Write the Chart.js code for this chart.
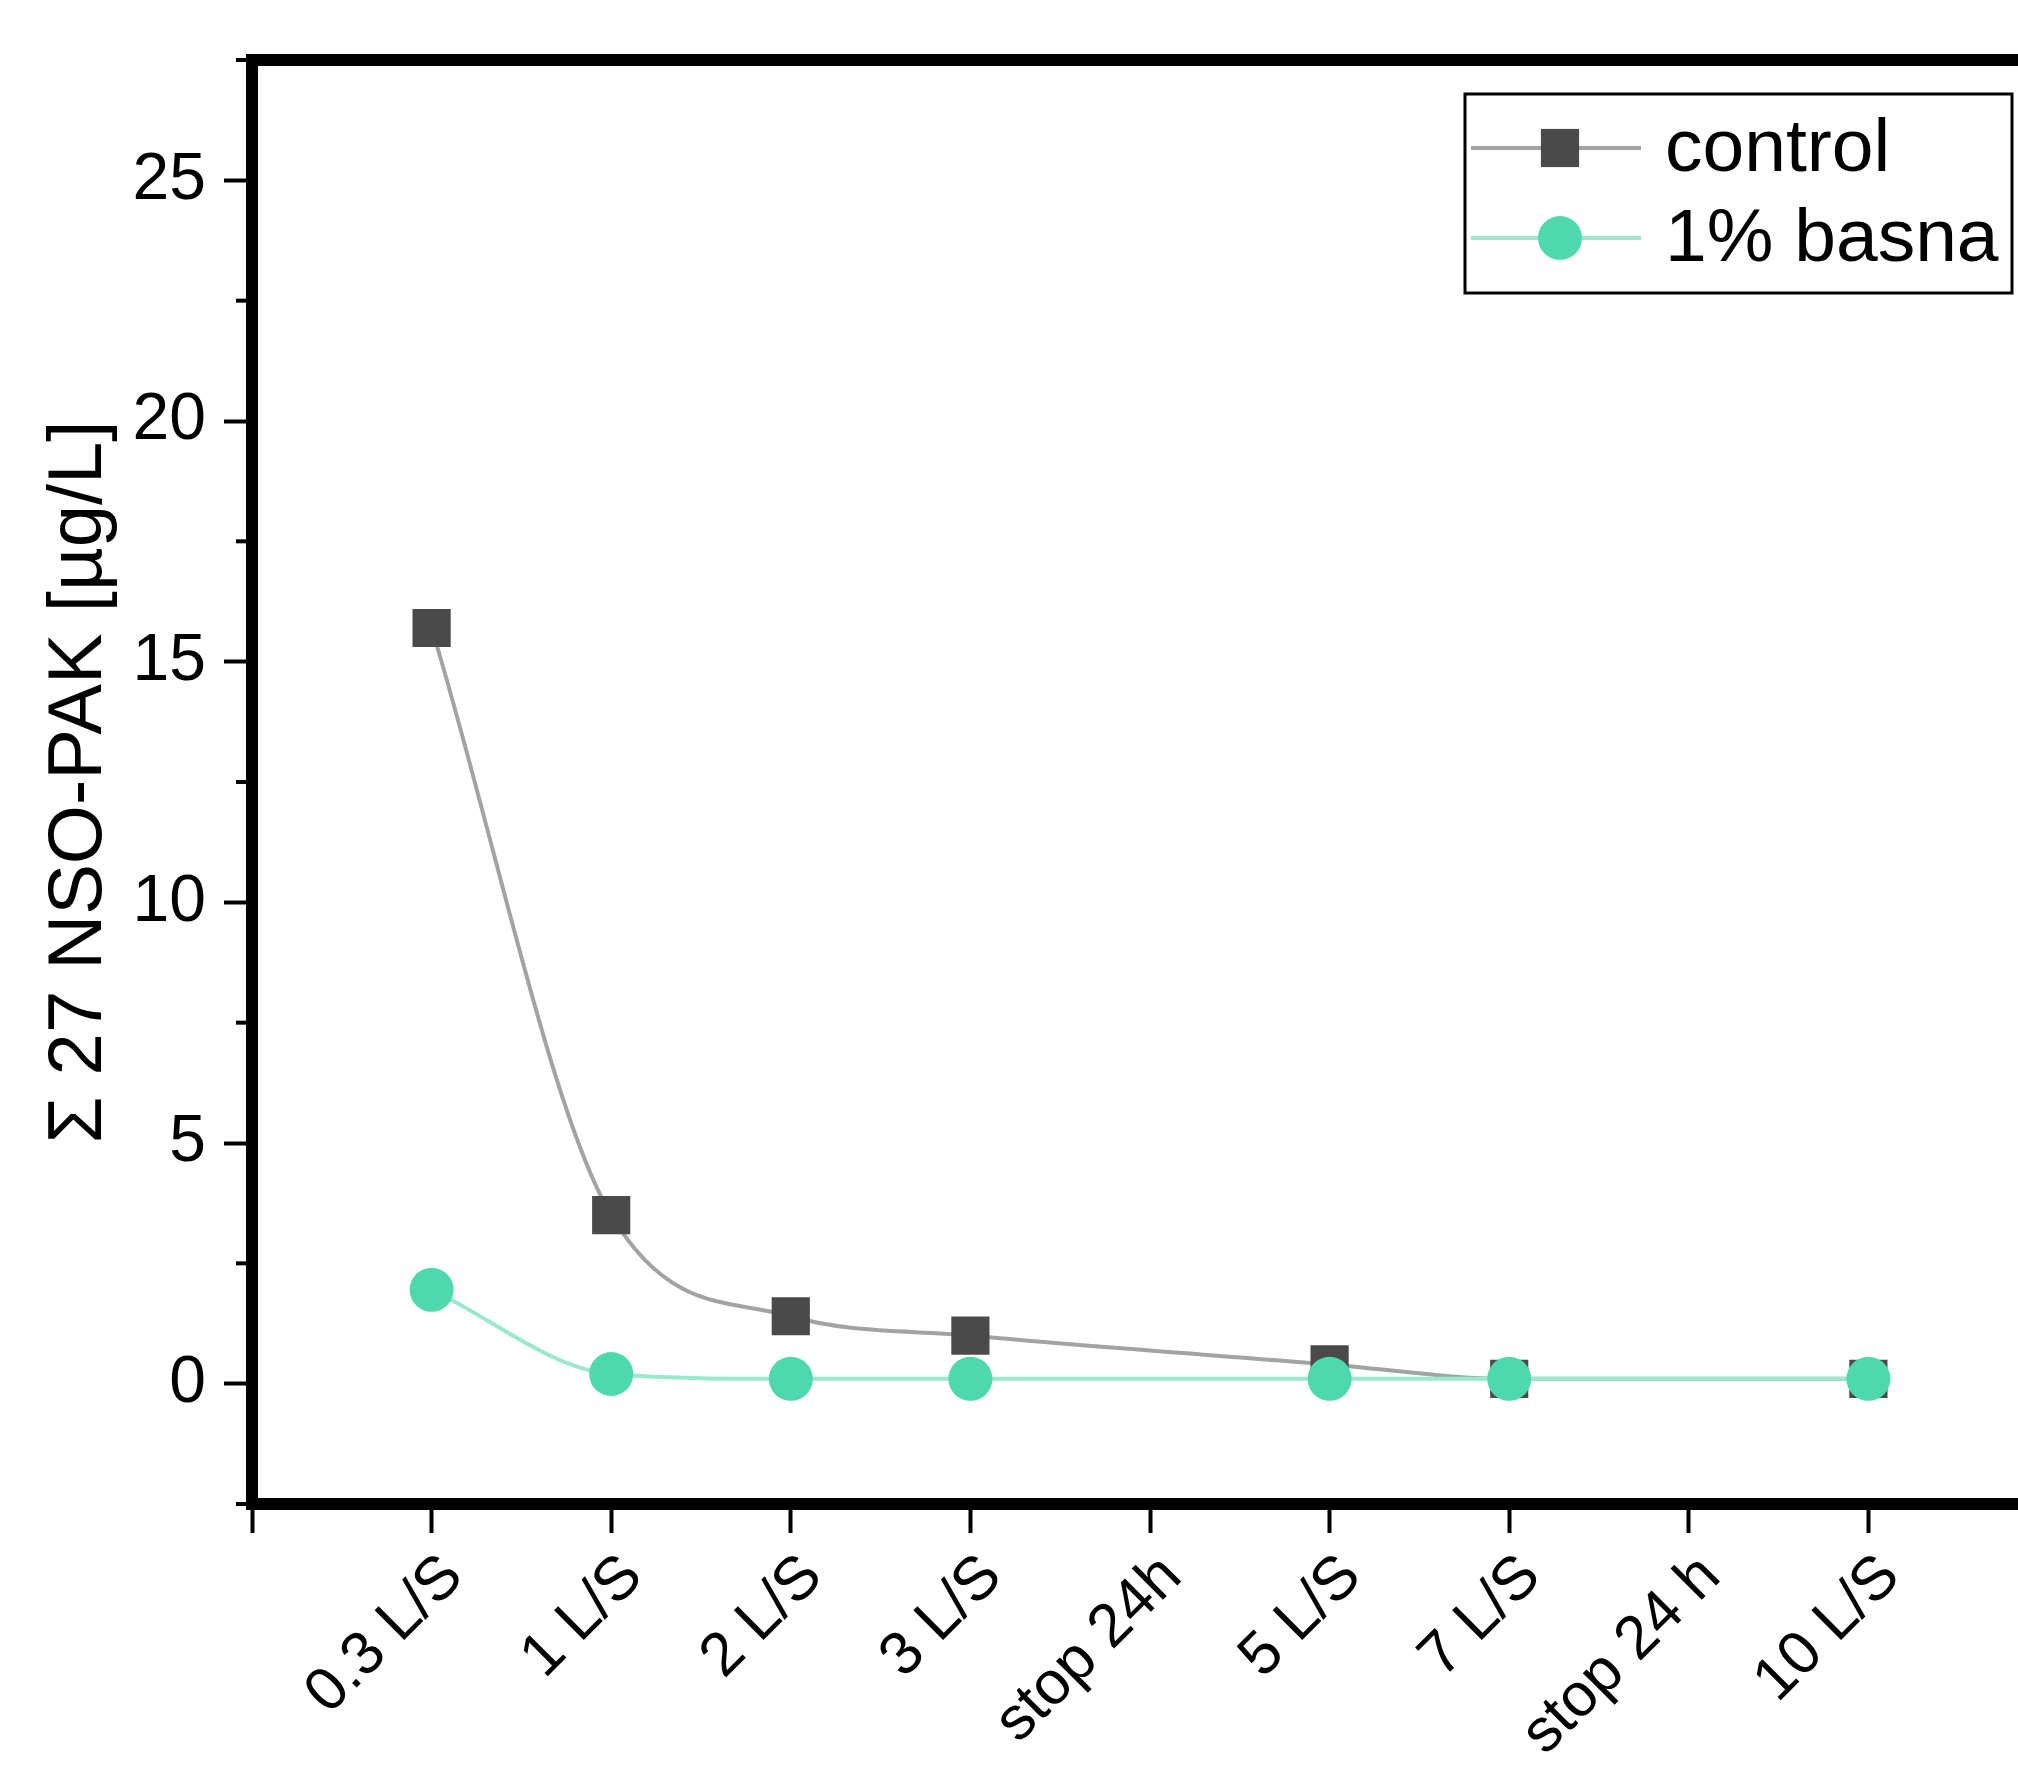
<!DOCTYPE html>
<html>
<head>
<meta charset="utf-8">
<script src="https://cdn.jsdelivr.net/npm/chart.js@4/dist/chart.umd.min.js"></script>
<style>
html, body { margin: 0; padding: 0; background: #fff; overflow: hidden; }
</style>
</head>
<body>
<canvas id="myChart" width="2075" height="1773"></canvas>
<script>
// x axis: sampling steps, placed at positions 1..9
var categories = ['0.3 L/S', '1 L/S', '2 L/S', '3 L/S', 'stop 24h', '5 L/S', '7 L/S', 'stop 24 h', '10 L/S'];
// steps that were sampled (the "stop" steps have no value)
var sampleSteps = [1, 2, 3, 4, 6, 7, 9];
var controlValues = [15.7, 3.5, 1.4, 1.0, 0.4, 0.1, 0.1];
var basnaValues = [1.95, 0.2, 0.1, 0.1, 0.1, 0.1, 0.1];
var yTicks = [0, 5, 10, 15, 20, 25];
var yMinorTicks = [-2.5, 2.5, 7.5, 12.5, 17.5, 22.5, 27.5];
var xTicks = [0, 1, 2, 3, 4, 5, 6, 7, 8, 9, 10];

var FONT = '"Liberation Sans", Arial, sans-serif';

function toPoints(values) {
    return values.map(function (v, i) { return {x: sampleSteps[i], y: v}; });
}

// frame top/right, minor y ticks and the legend inside the plot
var framePlugin = {
    id: 'frame',
    afterDraw: function (chart) {
        var ctx = chart.ctx;
        var a = chart.chartArea;
        var y = chart.scales.y;
        ctx.save();
        ctx.strokeStyle = '#000';
        ctx.lineWidth = 12;
        ctx.beginPath();
        ctx.moveTo(a.left - 6, a.top);
        ctx.lineTo(a.right, a.top);
        ctx.lineTo(a.right, a.bottom);
        ctx.stroke();

        ctx.lineWidth = 4;
        yMinorTicks.forEach(function (v) {
            var py = y.getPixelForValue(v);
            ctx.beginPath();
            ctx.moveTo(a.left - 16, py);
            ctx.lineTo(a.left, py);
            ctx.stroke();
        });

        // legend
        var x0 = a.left + 1213, y0 = a.top + 34;
        ctx.lineWidth = 3;
        ctx.fillStyle = '#fff';
        ctx.fillRect(x0, y0, 547, 199);
        ctx.strokeRect(x0, y0, 547, 199);
        chart.data.datasets.forEach(function (ds, i) {
            var ry = y0 + 54 + i * 90;
            ctx.strokeStyle = ds.borderColor;
            ctx.lineWidth = ds.borderWidth;
            ctx.beginPath();
            ctx.moveTo(x0 + 6, ry);
            ctx.lineTo(x0 + 176, ry);
            ctx.stroke();
            ctx.fillStyle = ds.pointBackgroundColor;
            if (ds.pointStyle === 'rect') {
                var h = ds.pointRadius * Math.SQRT1_2;
                ctx.fillRect(x0 + 95 - h, ry - h, 2 * h, 2 * h);
            } else {
                ctx.beginPath();
                ctx.arc(x0 + 95, ry, ds.pointRadius, 0, Math.PI * 2);
                ctx.fill();
            }
            ctx.fillStyle = '#000';
            ctx.font = '75px ' + FONT;
            ctx.textBaseline = 'middle';
            ctx.fillText(ds.label, x0 + 200, ry + 2);
        });
        ctx.restore();
    }
};

var ctx = document.getElementById('myChart').getContext('2d');
var chart = new Chart(ctx, {
    type: 'line',
    data: {
        datasets: [
            {
                label: 'control',
                data: toPoints(controlValues),
                borderColor: '#a3a3a3',
                borderWidth: 4,
                cubicInterpolationMode: 'monotone',
                pointStyle: 'rect',
                pointRadius: 27,
                pointBackgroundColor: '#4a4a4a',
                pointBorderWidth: 0,
                order: 1
            },
            {
                label: '1% basna',
                data: toPoints(basnaValues),
                borderColor: '#9ae8cf',
                borderWidth: 4,
                cubicInterpolationMode: 'monotone',
                pointStyle: 'circle',
                pointRadius: 22,
                pointBackgroundColor: '#4dd8ad',
                pointBorderWidth: 0,
                order: 0
            }
        ]
    },
    options: {
        responsive: false,
        animation: false,
        devicePixelRatio: 1,
        layout: {padding: {top: 60, right: 8, left: 0, bottom: 0}},
        plugins: {legend: {display: false}, tooltip: {enabled: false}},
        scales: {
            x: {
                type: 'linear',
                min: 0,
                max: 10,
                afterBuildTicks: function (s) { s.ticks = xTicks.map(function (v) { return {value: v}; }); },
                afterFit: function (s) {
                    s.height = 1773 - 1504;
                    s.paddingLeft = 0;
                    s.paddingRight = 0;
                },
                border: {display: true, width: 12, color: '#000'},
                grid: {drawOnChartArea: false, drawTicks: true, tickLength: 29, tickWidth: 4, tickColor: '#000'},
                ticks: {
                    autoSkip: false,
                    minRotation: 45,
                    maxRotation: 45,
                    padding: 8,
                    labelOffset: 22,
                    color: '#000',
                    font: {family: FONT, size: 61},
                    callback: function (v) { return categories[v - 1] || ''; }
                }
            },
            y: {
                min: -2.5,
                max: 27.5,
                afterBuildTicks: function (s) { s.ticks = yTicks.map(function (v) { return {value: v}; }); },
                afterFit: function (s) { s.width = 252; },
                border: {display: true, width: 12, color: '#000'},
                grid: {drawOnChartArea: false, drawTicks: true, tickLength: 28, tickWidth: 4, tickColor: '#000'},
                title: {
                    display: true,
                    text: 'Σ 27 NSO-PAK [µg/L]',
                    color: '#000',
                    font: {family: FONT, size: 76},
                    padding: {top: 34, bottom: 0}
                },
                ticks: {
                    padding: 18,
                    color: '#000',
                    font: {family: FONT, size: 66}
                }
            }
        }
    },
    plugins: [framePlugin]
});
</script>
</body>
</html>
